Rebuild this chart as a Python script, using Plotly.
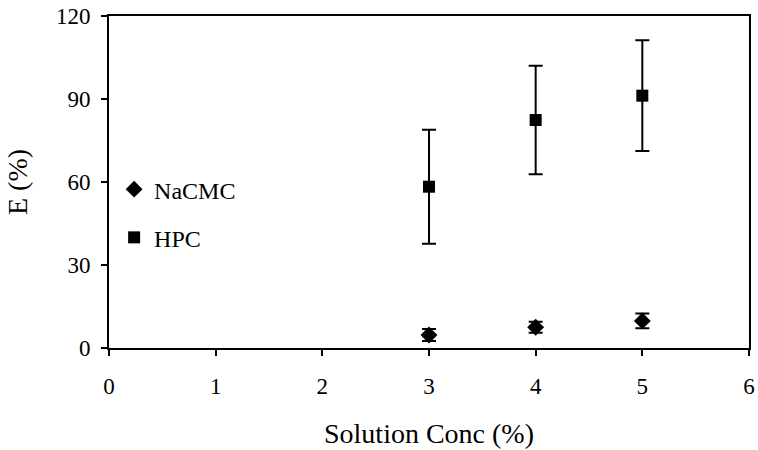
import plotly.graph_objects as go

conc = [3, 4, 5]
nacmc_e = [4.7, 7.5, 9.8]
nacmc_err = [2.2, 2.0, 2.7]
hpc_e = [58.3, 82.4, 91.2]
hpc_err = [20.6, 19.6, 20.0]

x_ticks = [0, 1, 2, 3, 4, 5, 6]
y_ticks = [0, 30, 60, 90, 120]

FAM = "Liberation Serif, Times New Roman, serif"
font = dict(family=FAM, size=23, color="black")
legend_font = dict(family=FAM, size=24, color="black")

fig = go.Figure()
fig.add_trace(go.Scatter(
    x=conc, y=nacmc_e, mode="markers", name="NaCMC", legendgroup="a",
    marker=dict(symbol="diamond", size=13, color="black"),
    error_y=dict(type="data", array=nacmc_err, color="black", thickness=2, width=7),
))
fig.add_trace(go.Scatter(
    x=conc, y=hpc_e, mode="markers", name="HPC", legendgroup="b",
    marker=dict(symbol="square", size=12, color="black"),
    error_y=dict(type="data", array=hpc_err, color="black", thickness=2, width=7),
))

fig.update_layout(
    width=758, height=450,
    margin=dict(l=109, r=9, t=16, b=102, autoexpand=False),
    paper_bgcolor="white", plot_bgcolor="white",
    font=font,
    showlegend=True,
    legend=dict(x=0.008, y=0.545, xanchor="left", yanchor="top",
                bgcolor="rgba(0,0,0,0)", font=legend_font,
                traceorder="grouped", tracegroupgap=14,
                itemwidth=30),
    xaxis=dict(range=[0, 6], tickvals=x_ticks, showgrid=False, zeroline=False,
               showline=True, linecolor="black", linewidth=2, mirror=True,
               ticks="outside", ticklen=6, tickwidth=1.5, tickcolor="black",
               automargin=False, ticklabelstandoff=10, ticklabeloverflow="allow",
               title=dict(text="Solution Conc (%)", standoff=26), tickfont=font),
    yaxis=dict(range=[0, 120], tickvals=y_ticks, showgrid=False, zeroline=False,
               showline=True, linecolor="black", linewidth=2, mirror=True,
               ticks="outside", ticklen=6, tickwidth=1.5, tickcolor="black",
               automargin=False, ticklabelstandoff=6, ticklabeloverflow="allow",
               title=dict(text="E (%)", standoff=20), tickfont=font),
)

# remove the default 8px page margin so the figure fills the window exactly
fig.write_html("out.html", config={"displayModeBar": False},
               post_script="document.body.style.margin='0px';")
